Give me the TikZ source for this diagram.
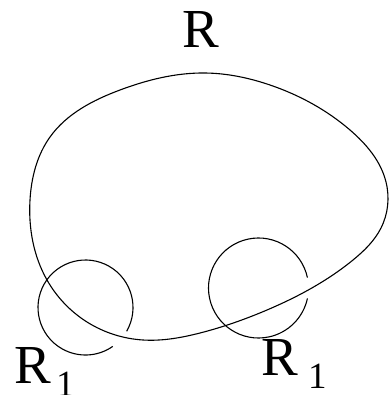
\documentclass[tikz,border=0pt]{standalone}
\usepackage{fontspec}
\setmainfont{Liberation Serif}
\usetikzlibrary{hobby}
\begin{document}
\begin{tikzpicture}[x=1pt,y=-1pt,
  curve/.style={draw=black,line width=1.1pt},
  bigR/.style={inner sep=0pt,anchor=base west,font=\fontsize{55}{60}\selectfont},
  subone/.style={inner sep=0pt,anchor=base west,font=\fontsize{37}{40}\selectfont}]
\useasboundingbox (0,0) rectangle (388,395);
\draw[curve,use Hobby shortcut,closed=true]
 (205,73) .. (270,85) .. (350,130) .. (386,182) .. (381,228) .. (353,260)
 .. (267,310) .. (200,333) .. (143,340) .. (87,322) .. (47,280) .. (30,200)
 .. (50,137) .. (120,90);
% left small circle
\draw[curve] ([shift={(85.5,307.5)}]-30:47.5pt) arc[start angle=-30,end angle=305,radius=47.5pt];
% right small circle
\draw[curve] ([shift={(258.5,288)}]12:50pt) arc[start angle=12,end angle=348,radius=50pt];
\node[bigR] (rtop) at (182,48) {R};
\node[bigR] (rleft) at (14,383) {R};
\node[subone] (oneleft) at (56,396) {1};
\node[bigR] (rright) at (261,375) {R};
\node[subone] (oneright) at (308,388) {1};
\end{tikzpicture}
\end{document}
